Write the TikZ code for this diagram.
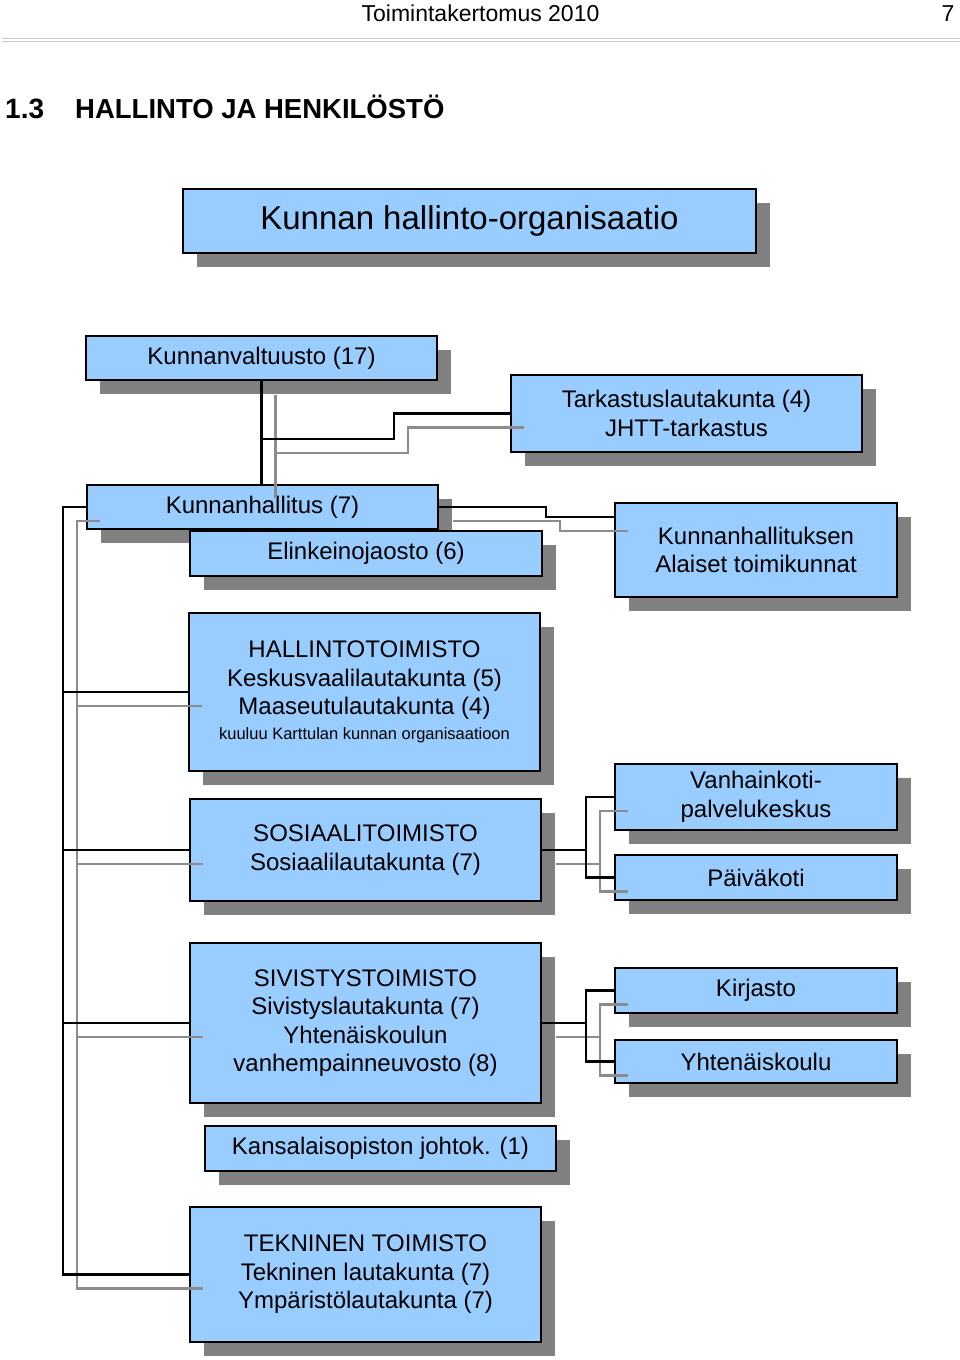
\documentclass[tikz,border=0pt]{standalone}
\usepackage{fontspec}
\setmainfont{Liberation Sans}
\usetikzlibrary{shadows}
\definecolor{boxblue}{RGB}{153,204,255}
\definecolor{shadowgray}{RGB}{128,128,128}
\definecolor{lineshadow}{RGB}{140,140,140}
\definecolor{rulegray}{RGB}{200,200,200}
\tikzset{
  orgbox/.style={draw=black, line width=1.7pt, fill=boxblue, align=center,
    inner sep=0pt, text=black,
    font=\fontsize{24}{28.5}\selectfont,
    drop shadow={shadow xshift=14pt, shadow yshift=-14pt, fill=shadowgray, opacity=1}},
  conn/.style={draw=black, line width=2.1pt},
  connshadow/.style={draw=lineshadow, line width=2.1pt},
}
\begin{document}
\begin{tikzpicture}[x=1pt,y=-1pt]
\useasboundingbox (0,0) rectangle (960,1360);
% header
\node[anchor=base, font=\fontsize{23}{23}\selectfont] (hdr) at (480.5,21) {Toimintakertomus 2010};
\node[anchor=base east, font=\fontsize{23}{23}\selectfont] (pg) at (958,21) {7};
\draw[rulegray, line width=1pt] (2,38.5) -- (960,38.5);
\draw[rulegray, line width=1pt] (2,41.5) -- (960,41.5);
\node[anchor=base west, inner sep=0pt, font=\fontsize{28}{28}\selectfont\bfseries] (secnum) at (5,118) {1.3};
\node[anchor=base west, inner sep=0pt, font=\fontsize{27.5}{28}\selectfont\bfseries] (sectitle) at (75,118) {HALLINTO JA HENKILÖSTÖ};

% boxes
\node[orgbox, minimum width=573, minimum height=64, font=\fontsize{33}{36}\selectfont] (title) at (469.5,221) {Kunnan hallinto-organisaatio};
\node[orgbox, minimum width=351, minimum height=44] (kv) at (261.5,358) {Kunnanvaltuusto (17)};
\node[orgbox, minimum width=351, minimum height=77] (tark) at (686.5,413.5) {Tarkastuslautakunta (4)\\JHTT-tarkastus};
\node[orgbox, minimum width=351, minimum height=44] (kh) at (262.5,507) {Kunnanhallitus (7)};
\node[orgbox, minimum width=352, minimum height=45] (ej) at (366,553.5) {Elinkeinojaosto (6)};
\node[orgbox, minimum width=282, minimum height=94] (al) at (756,550) {Kunnanhallituksen\\Alaiset toimikunnat};
\node[orgbox, minimum width=351, minimum height=158] (ht) at (364.5,692) {HALLINTOTOIMISTO\\Keskusvaalilautakunta (5)\\Maaseutulautakunta (4)\\[-4pt]{\fontsize{16.5}{20}\selectfont kuuluu Karttulan kunnan organisaatioon}};
\node[orgbox, minimum width=351, minimum height=102] (so) at (365.5,850) {SOSIAALITOIMISTO\\Sosiaalilautakunta (7)};
\node[orgbox, minimum width=282, minimum height=66] (vp) at (756,797) {Vanhainkoti-\\palvelukeskus};
\node[orgbox, minimum width=282, minimum height=45] (pk) at (756,877.5) {Päiväkoti};
\node[orgbox, minimum width=351, minimum height=160] (si) at (365.5,1023) {SIVISTYSTOIMISTO\\Sivistyslautakunta (7)\\Yhtenäiskoulun\\vanhempainneuvosto (8)};
\node[orgbox, minimum width=282, minimum height=45] (ki) at (756,990.5) {Kirjasto};
\node[orgbox, minimum width=282, minimum height=43] (yk) at (756,1061.5) {Yhtenäiskoulu};
\node[orgbox, minimum width=351, minimum height=45] (ka) at (380.5,1148.5) {Kansalaisopiston johtok. (1)};
\node[orgbox, minimum width=351, minimum height=135] (te) at (365.5,1274.5) {TEKNINEN TOIMISTO\\Tekninen lautakunta (7)\\Ympäristölautakunta (7)};

% bend points
\coordinate (b1) at (394,439);
\coordinate (bus) at (63,1274.5);
\coordinate (b2) at (546,517);
\coordinate (b3) at (586,850);
\coordinate (b4) at (586,1023);

% connector shadows
\begin{scope}[transform canvas={shift={(14pt,-14pt)}}, connshadow]
\draw (kv.south) -- (kv.south |- kh.north);
\draw (kv.south) |- (b1) |- (tark.west);
\draw (kh.west) -| (bus) -- (te.west);
\draw (ht.west) -- (ht.west -| bus);
\draw (so.west) -- (so.west -| bus);
\draw (si.west) -- (si.west -| bus);
\draw (kh.east) -| (b2) -- (b2 -| al.west);
\draw (so.east) -- (b3);
\draw (vp.west) -| (b3) |- (pk.west);
\draw (si.east) -- (b4);
\draw (ki.west) -| (b4) |- (yk.west);
\end{scope}

% connectors
\begin{scope}[conn]
\draw (kv.south) -- (kv.south |- kh.north);
\draw (kv.south) |- (b1) |- (tark.west);
\draw (kh.west) -| (bus) -- (te.west);
\draw (ht.west) -- (ht.west -| bus);
\draw (so.west) -- (so.west -| bus);
\draw (si.west) -- (si.west -| bus);
\draw (kh.east) -| (b2) -- (b2 -| al.west);
\draw (so.east) -- (b3);
\draw (vp.west) -| (b3) |- (pk.west);
\draw (si.east) -- (b4);
\draw (ki.west) -| (b4) |- (yk.west);
\end{scope}
\end{tikzpicture}
\end{document}
